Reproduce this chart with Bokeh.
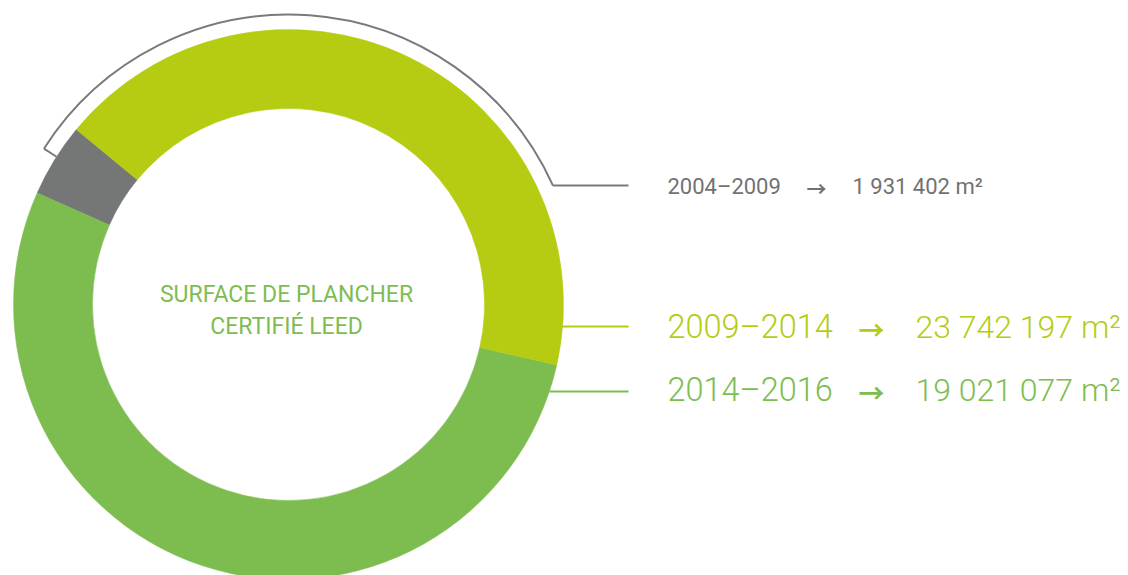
import math
from bokeh.plotting import figure
from bokeh.models import Range1d, ColumnDataSource
from bokeh.core.properties import value
from bokeh.embed import file_html
from bokeh.resources import INLINE

# ---- data ----
periods = ["2004–2009", "2009–2014", "2014–2016"]
label_values = ["1 931 402 m²", "23 742 197 m²", "19 021 077 m²"]
label_colors = ["#727272", "#b5cc12", "#7dbd4f"]
# slices as drawn (counter-clockwise from the top-left)
slice_names = ["2004–2009", "2014–2016 (drawn)", "2009–2014 (drawn)"]
slice_values = [1931402, 23742197, 19021077]
slice_colors = ["#757676", "#7dbd4f", "#b5cc12"]
center_title = ["SURFACE DE PLANCHER", "CERTIFIÉ LEED"]

W, H = 1128, 575
p = figure(width=W, height=H, output_backend="svg", toolbar_location=None,
           x_range=Range1d(0, W), y_range=Range1d(575 - H, 575),
           min_border=0, outline_line_color=None, background_fill_color="white",
           border_fill_color="white")
p.axis.visible = False
p.grid.visible = False

def Y(wy):
    return 575 - wy

cx, cy = 288, Y(304)
r_in, r_out = 196, 275
start0 = math.radians(140.5)
total = sum(slice_values)
starts, ends = [], []
a = start0
for v in slice_values:
    starts.append(a)
    a += v / total * 2 * math.pi
    ends.append(a)
src = ColumnDataSource(dict(start=starts, end=ends, color=slice_colors, name=slice_names))
p.annular_wedge(x=cx, y=cy, inner_radius=r_in, outer_radius=r_out,
                start_angle="start", end_angle="end", fill_color="color",
                line_color="color", line_width=0.5, source=src)

# bracket around the 2004-2009 callout
br = 290
a1, a2 = math.radians(24.2), math.radians(147.5)
p.arc(x=cx, y=cy, radius=br, start_angle=a1, end_angle=a2,
      line_color="#7a7a7a", line_width=2)
p.line([cx + br * math.cos(a2), cx + r_out * math.cos(a2)],
       [cy + br * math.sin(a2), cy + r_out * math.sin(a2)],
       line_color="#7a7a7a", line_width=2)
p.line([cx + br * math.cos(a1), 628], [cy + br * math.sin(a1)] * 2,
       line_color="#7a7a7a", line_width=2)

# leader lines
p.line([561, 628], [Y(326), Y(326)], line_color=label_colors[1], line_width=2)
p.line([549, 628], [Y(391), Y(391)], line_color=label_colors[2], line_width=2)

# labels
rows_y = [Y(186), Y(326), Y(389)]
sizes = ["22px", "32.5px", "32.5px"]
val_sizes = ["22px", "32px", "32px"]
arrow_sizes = ["20px", "26px", "26px"]
fonts = ["Roboto", "Roboto Light", "Roboto Light"]
arrow_x = [806, 858, 858]
val_x = [852, 915, 915]
for i in range(3):
    f = value(fonts[i])
    p.text(x=[667], y=[rows_y[i]], text=[periods[i]], text_font=f,
           text_font_size=sizes[i], text_color=label_colors[i],
           text_baseline="middle", text_align="left")
    p.text(x=[arrow_x[i]], y=[rows_y[i] - 2], text=["→"],
           text_font=value("Noto Sans CJK JP"), text_font_style="bold",
           text_font_size=arrow_sizes[i], text_color=label_colors[i],
           text_baseline="middle", text_align="left")
    p.text(x=[val_x[i]], y=[rows_y[i]], text=[label_values[i]], text_font=f,
           text_font_size=val_sizes[i], text_color=label_colors[i],
           text_baseline="middle", text_align="left")

p.text(x=[286, 286], y=[Y(294), Y(326)], text=center_title,
       text_font=value("Roboto"), text_font_size="23px", text_color="#7dbd4f",
       text_baseline="middle", text_align="center")

open("out.html", "w").write(file_html(p, INLINE))
